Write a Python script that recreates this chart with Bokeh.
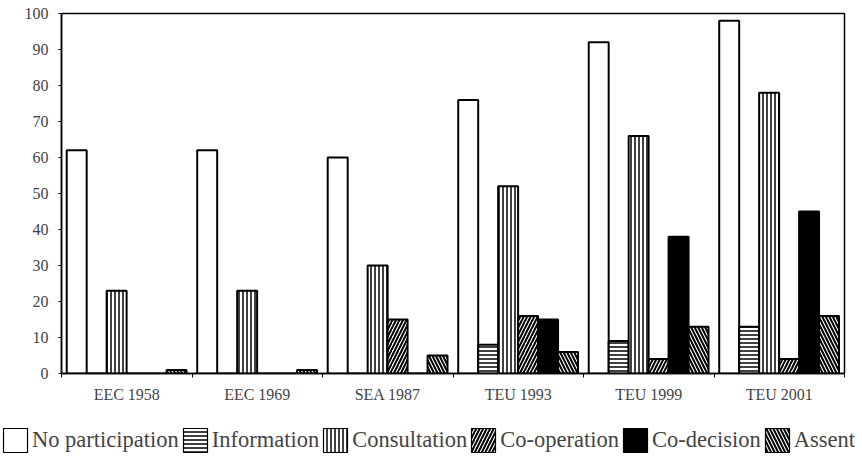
from bokeh.plotting import figure
from bokeh.models import Range1d, FixedTicker, ColumnDataSource, Legend, LegendItem
from bokeh.transform import dodge
from bokeh.embed import file_html
from bokeh.resources import INLINE

groups = ["EEC 1958", "EEC 1969", "SEA 1987", "TEU 1993", "TEU 1999", "TEU 2001"]
series_names = ["No participation", "Information", "Consultation", "Co-operation", "Co-decision", "Assent"]
no_participation = [62, 62, 60, 76, 92, 98]
information = [0, 0, 0, 8, 9, 13]
consultation = [23, 23, 30, 52, 66, 78]
co_operation = [0, 0, 15, 16, 4, 4]
co_decision = [0, 0, 0, 15, 38, 45]
assent = [1, 1, 5, 6, 13, 16]
y_ticks = [0, 10, 20, 30, 40, 50, 60, 70, 80, 90, 100]

series_values = [no_participation, information, consultation, co_operation, co_decision, assent]
keys = ["s%d" % i for i in range(len(series_names))]
centers = [i + 0.5 for i in range(len(groups))]
data = {"x": centers}
for k, v in zip(keys, series_values):
    data[k] = v
src = ColumnDataSource(data)

FONT = "Liberation Serif"

p = figure(width=862, height=412, x_range=Range1d(0, len(groups)), y_range=Range1d(0, 100),
           output_backend="svg", toolbar_location=None,
           min_border_left=61, min_border_right=18, min_border_top=13, min_border_bottom=39)
p.xgrid.visible = False
p.ygrid.visible = False
p.outline_line_color = "black"
p.outline_line_width = 1.5
p.background_fill_color = "white"
p.border_fill_color = "white"

styles = [
    dict(fill_color="white"),
    dict(fill_color="white", hatch_pattern="horizontal_line", hatch_scale=4, hatch_weight=1.5, hatch_color="black"),
    dict(fill_color="white", hatch_pattern="vertical_line", hatch_scale=4, hatch_weight=1.5, hatch_color="black"),
    dict(fill_color="white", hatch_pattern="right_diagonal_line", hatch_scale=7, hatch_weight=2, hatch_color="black"),
    dict(fill_color="black"),
    dict(fill_color="white", hatch_pattern="left_diagonal_line", hatch_scale=7, hatch_weight=2, hatch_color="black"),
]

# legend strip below the chart (its own data range is off-screen, only the legend shows)
lg = figure(width=862, height=46, x_range=Range1d(1000, 1001), y_range=Range1d(1000, 1001),
            output_backend="svg", toolbar_location=None,
            x_axis_location=None, y_axis_location=None,
            min_border_left=0, min_border_right=0, min_border_top=0, min_border_bottom=0)
lg.xgrid.visible = False
lg.ygrid.visible = False
lg.outline_line_color = None
lg.border_fill_color = "white"
lg.background_fill_color = "white"

bw = 0.153
start = -0.46
items = []
for i, (k, name, st) in enumerate(zip(keys, series_names, styles)):
    off = start + (i + 0.5) * bw
    p.vbar(x=dodge("x", off), top=k, width=bw, bottom=0, source=src,
           line_color="black", line_width=2, **st)
    r2 = lg.vbar(x=dodge("x", off), top=k, width=bw, bottom=0, source=src,
                 line_color="black", line_width=1.2, **st)
    items.append(LegendItem(label=name, renderers=[r2]))

legend = Legend(items=items, orientation="horizontal", location=(0, 3),
                glyph_width=30, glyph_height=30, label_standoff=2, spacing=1,
                padding=0, margin=0, border_line_color=None,
                background_fill_alpha=0, label_height=30,
                label_text_font=FONT, label_text_font_size="22.5px")
lg.add_layout(legend, "center")

xa = p.xaxis[0]
xa.ticker = FixedTicker(ticks=centers, minor_ticks=list(range(len(groups) + 1)))
xa.major_label_overrides = {c: g for c, g in zip(centers, groups)}
xa.major_tick_line_color = None
xa.minor_tick_line_color = "black"
xa.minor_tick_out = 4
xa.minor_tick_in = 0
xa.axis_line_color = "black"
xa.axis_line_width = 1.5
xa.major_label_text_font = FONT
xa.major_label_text_font_size = "16px"
xa.major_label_standoff = 6

ya = p.yaxis[0]
ya.ticker = FixedTicker(ticks=y_ticks)
ya.major_tick_out = 3
ya.major_tick_in = 0
ya.minor_tick_line_color = None
ya.axis_line_color = "black"
ya.axis_line_width = 1.5
ya.major_label_text_font = FONT
ya.major_label_text_font_size = "16px"
ya.major_label_standoff = 10

open("out.html", "w").write(file_html([p, lg], INLINE))
